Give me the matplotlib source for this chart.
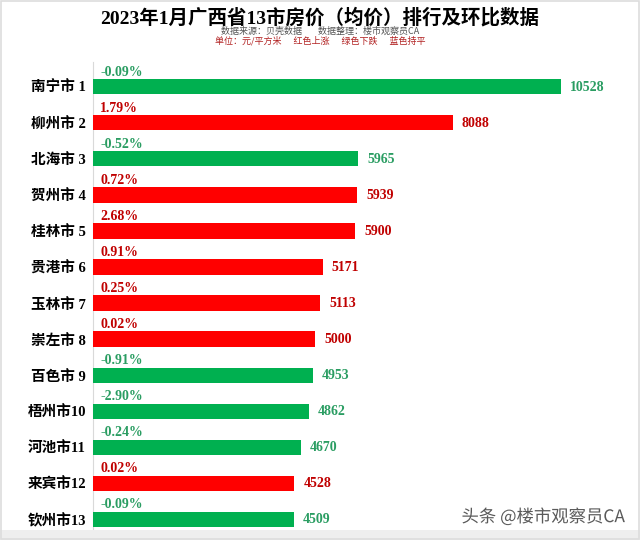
"""2023年1月广西省13市房价排行及环比 — horizontal bar chart."""
import matplotlib
matplotlib.use("Agg")
import matplotlib.pyplot as plt
import matplotlib.patches as mpatches
import matplotlib.patheffects as pe

plt.rcParams["font.family"] = ["Liberation Serif", "Noto Sans CJK SC", "DejaVu Sans"]

cities = ["南宁市 1", "柳州市 2", "北海市 3", "贺州市 4", "桂林市 5", "贵港市 6", "玉林市 7",
          "崇左市 8", "百色市 9", "梧州市10", "河池市11", "来宾市12", "钦州市13"]
prices = [10528, 8088, 5965, 5939, 5900, 5171, 5113, 5000, 4953, 4862, 4670, 4528, 4509]
mom = [-0.09, 1.79, -0.52, 0.72, 2.68, 0.91, 0.25, 0.02, -0.91, -2.90, -0.24, 0.02, -0.09]

UP_BAR, DOWN_BAR = "#FF0000", "#00B050"
UP_TXT, DOWN_TXT = "#C00000", "#2A9D62"

fig = plt.figure(figsize=(6.4, 5.4), dpi=100)
ax = fig.add_axes([93 / 640, 1 - 530 / 540, (620 - 93) / 640, (530 - 62) / 540])

ypos = list(range(len(cities)))
bar_colors = [UP_BAR if m > 0 else DOWN_BAR for m in mom]
ax.barh(ypos, prices, height=0.42, color=bar_colors, zorder=3)

for y, p, m in zip(ypos, prices, mom):
    tc = UP_TXT if m > 0 else DOWN_TXT
    ax.text(160, y - 0.40, f"{m:.2f}%", color=tc, fontsize=10, fontweight="bold",
            ha="left", va="center")
    ax.text(p + 200, y + 0.02, f"{p}", color=tc, fontsize=10, fontweight="bold",
            ha="left", va="center")

ax.set_xlim(0, 11850)
ax.set_ylim(12.3, -0.69)
ax.set_yticks(ypos)
ax.set_yticklabels(cities, fontsize=10.5, fontweight="bold")
ax.tick_params(axis="y", length=0, pad=5)
ax.set_xticks([])
for s in ["top", "right", "bottom"]:
    ax.spines[s].set_visible(False)
ax.spines["left"].set_color("#d9d9d9")
ax.spines["left"].set_linewidth(0.8)

fig.text(0.5, 1 - 18 / 540, "2023年1月广西省13市房价（均价）排行及环比数据",
         ha="center", va="center", fontsize=14, fontweight="bold")
fig.text(0.5, 1 - 31 / 540, "数据来源：贝壳数据        数据整理：楼市观察员CA",
         ha="center", va="center", fontsize=6.5, color="#555555",
         family=["Noto Sans CJK SC", "DejaVu Sans"])
fig.text(0.5, 1 - 41 / 540, "单位：元/平方米      红色上涨      绿色下跌      蓝色持平",
         ha="center", va="center", fontsize=6.5, color="#B22222",
         family=["Noto Sans CJK SC", "DejaVu Sans"])

# watermark
fig.text(625 / 640, 1 - 517 / 540, "头条 @楼市观察员CA", ha="right", va="center",
         fontsize=12.5, color="#5a5a5a", family=["Noto Sans CJK SC", "DejaVu Sans"],
         path_effects=[pe.withStroke(linewidth=2, foreground="white")])

# outer frame and bottom strip
fig.patches.append(mpatches.Rectangle((0, 0), 1, 10 / 540, transform=fig.transFigure,
                                      facecolor="#eeeeee", edgecolor="none", zorder=0))
fig.patches.append(mpatches.Rectangle((0.001, 0.001), 0.998, 0.998, transform=fig.transFigure,
                                      facecolor="none", edgecolor="#dddddd", linewidth=1.2))

plt.savefig("out.png", dpi=100)
